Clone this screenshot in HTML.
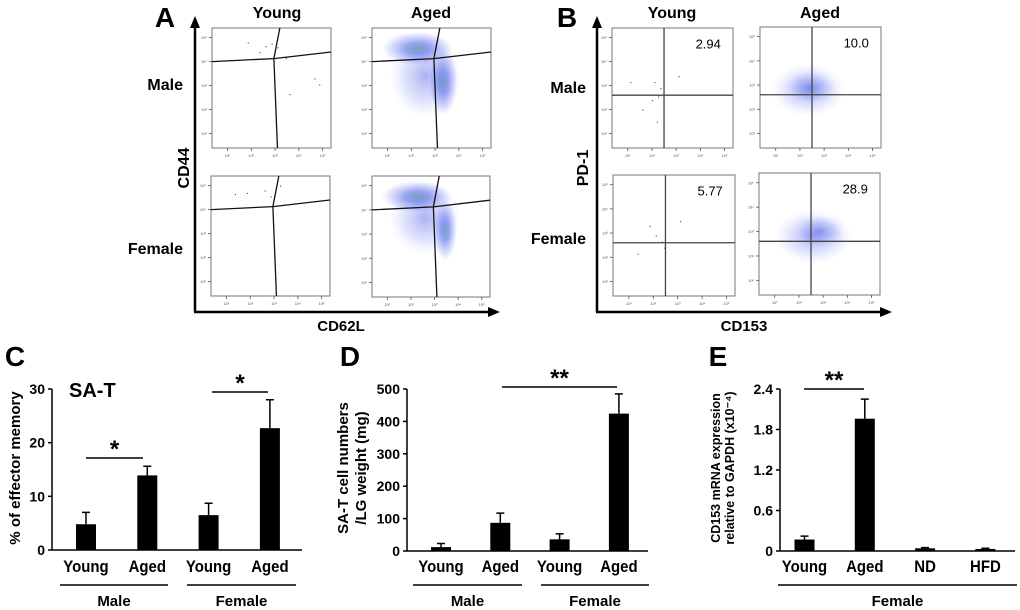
<!DOCTYPE html>
<html><head><meta charset="utf-8"><style>
html,body{margin:0;padding:0;background:#fff;}
svg{display:block;font-family:"Liberation Sans",Arial,sans-serif;}
</style></head><body>
<svg id="fig" width="1020" height="610" viewBox="0 0 1020 610" xmlns="http://www.w3.org/2000/svg">
<defs>
<radialGradient id="cl" cx="50%" cy="50%" r="50%">
<stop offset="0" stop-color="#3a8f8a" stop-opacity="0.7"/>
<stop offset="0.35" stop-color="#3a4fe0" stop-opacity="0.5"/>
<stop offset="0.75" stop-color="#6070ee" stop-opacity="0.22"/>
<stop offset="1" stop-color="#8090ff" stop-opacity="0"/>
</radialGradient>
<radialGradient id="cl2" cx="50%" cy="50%" r="50%">
<stop offset="0" stop-color="#3040e0" stop-opacity="0.4"/>
<stop offset="0.6" stop-color="#6070f0" stop-opacity="0.2"/>
<stop offset="1" stop-color="#90a0ff" stop-opacity="0"/>
</radialGradient>
<marker id="arr" markerUnits="userSpaceOnUse" markerWidth="12" markerHeight="10" refX="4" refY="5" orient="auto"><path d="M0,0 L12,5 L0,10 z" fill="#000"/></marker>
</defs>
<g id="flow"></g>
<g id="bars"></g>
</svg>
<script>
// ---- Panel C data ----
const cCats = ['Young','Aged','Young','Aged'];
const cVals = [4.8, 13.9, 6.5, 22.7];
const cErr = [7.0, 15.6, 8.7, 28.0];
const cTicks = [0, 10, 20, 30];
// ---- Panel D data ----
const dCats = ['Young','Aged','Young','Aged'];
const dVals = [12, 87, 36, 424];
const dErr = [23, 117, 53, 485];
const dTicks = [0, 100, 200, 300, 400, 500];
// ---- Panel E data ----
const eCats = ['Young','Aged','ND','HFD'];
const eVals = [0.17, 1.96, 0.04, 0.03];
const eErr = [0.22, 2.25, 0.05, 0.04];
const eTicks = [0, 0.6, 1.2, 1.8, 2.4];
const eTickLabels = ['0','0.6','1.2','1.8','2.4'];
// ---- Flow quadrant values ----
const bQuadVals = ['2.94','10.0','5.77','28.9'];

const NS='http://www.w3.org/2000/svg';
function mk(parent,tag,attrs,text){
  const e=document.createElementNS(NS,tag);
  for(const k in attrs) e.setAttribute(k,attrs[k]);
  if(text!==undefined) e.textContent=text;
  parent.appendChild(e); return e;
}
const flow=document.getElementById('flow');
const bars=document.getElementById('bars');

function label(parent,x,y,txt,size,anchor,name,rot){
  const t=mk(parent,'text',{x:x,y:y,'font-size':size,'font-weight':'bold','text-anchor':anchor||'middle',fill:'#000'},txt);
  if(rot) t.setAttribute('transform','rotate(-90 '+x+' '+y+')');
  
  
  return t;
}

// ---------- Flow plots ----------
function flowPlot(x,y,w,h,name){
  const g=mk(flow,'g',{});
  
  
  mk(g,'rect',{x:x,y:y,width:w,height:h,fill:'#fff',stroke:'#777','stroke-width':1});
  for(let i=0;i<5;i++){
    const tx=x+w*(0.13+i*0.2), ty=y+h*(0.08+i*0.2);
    mk(g,'line',{x1:tx,y1:y+h,x2:tx,y2:y+h+3,stroke:'#555','stroke-width':0.8});
    mk(g,'line',{x1:x,y1:ty,x2:x-3,y2:ty,stroke:'#555','stroke-width':0.8});
    mk(g,'text',{x:tx,y:y+h+9,'font-size':4,'text-anchor':'middle',fill:'#555'},'10'+'¹²³⁴⁵'[i]);
    mk(g,'text',{x:x-5,y:ty+1.5,'font-size':4,'text-anchor':'end',fill:'#555'},'10'+'⁵⁴³²¹'[i]);
  }
  return g;
}
function blob(g,x,y,w,h,cx,cy,rx,ry,grad){
  mk(g,'ellipse',{cx:x+w*cx,cy:y+h*cy,rx:w*rx,ry:h*ry,fill:'url(#'+(grad||'cl')+')'});
}
function dots(g,x,y,w,h,pts){
  pts.forEach(p=>mk(g,'rect',{x:x+w*p[0],y:y+h*p[1],width:1.2,height:1.2,fill:'#4050e8'}));
}
function gateA(g,x,y,w,h){
  const P=(a,b)=>(x+w*a)+','+(y+h*b);
  mk(g,'polyline',{points:P(0,0.28)+' '+P(0.52,0.255)+' '+P(1,0.2),fill:'none',stroke:'#111','stroke-width':1.3});
  mk(g,'polyline',{points:P(0.57,0)+' '+P(0.52,0.255)+' '+P(0.55,1),fill:'none',stroke:'#111','stroke-width':1.3});
}
function gateB(g,x,y,w,h,v){
  mk(g,'line',{x1:x+w*0.43,y1:y,x2:x+w*0.43,y2:y+h,stroke:'#444','stroke-width':1.3});
  mk(g,'line',{x1:x,y1:y+h*0.56,x2:x+w,y2:y+h*0.56,stroke:'#444','stroke-width':1.3});
  const t=mk(g,'text',{x:x+w*0.9,y:y+h*0.17,'font-size':13,'text-anchor':'end',fill:'#000'},v);
  
  
}

// Panel A
label(flow,165,27,'A',28,'middle','panel-a-label');
label(flow,277,18,'Young',16,'middle','column-young-a');
label(flow,431,18,'Aged',16,'middle','column-aged-a');
label(flow,183,90,'Male',16,'end','row-male-a');
label(flow,183,254,'Female',16,'end','row-female-a');
label(flow,189,168,'CD44',16,'middle','y-axis-title-cd44',true);
label(flow,341,331,'CD62L',15,'middle','x-axis-title-cd62l');
mk(flow,'line',{x1:195,y1:312,x2:195,y2:24,stroke:'#000','stroke-width':2.5,'marker-end':'url(#arr)'});
mk(flow,'line',{x1:194,y1:312,x2:492,y2:312,stroke:'#000','stroke-width':2.5,'marker-end':'url(#arr)'});
let g=flowPlot(212,28,119,120,'flow-a-young-male');
dots(g,212,28,119,120,[[0.3,0.12],[0.45,0.15],[0.5,0.13],[0.4,0.2],[0.55,0.16],[0.62,0.25],[0.86,0.42],[0.9,0.47],[0.65,0.55]]);
gateA(g,212,28,119,120);
g=flowPlot(372,28,119,120,'flow-a-aged-male');
blob(g,372,28,119,120,0.38,0.17,0.3,0.14);
blob(g,372,28,119,120,0.6,0.45,0.12,0.28);
blob(g,372,28,119,120,0.45,0.4,0.3,0.35,'cl2');
gateA(g,372,28,119,120);
g=flowPlot(211,176,119,120,'flow-a-young-female');
dots(g,211,176,119,120,[[0.2,0.15],[0.3,0.14],[0.45,0.12],[0.5,0.17],[0.58,0.08]]);
gateA(g,211,176,119,120);
g=flowPlot(372,176,118,121,'flow-a-aged-female');
blob(g,372,176,118,121,0.38,0.17,0.3,0.13);
blob(g,372,176,118,121,0.62,0.45,0.1,0.25);
blob(g,372,176,118,121,0.45,0.35,0.3,0.3,'cl2');
gateA(g,372,176,118,121);

// Panel B
label(flow,567,27,'B',28,'middle','panel-b-label');
label(flow,672,18,'Young',16,'middle','column-young-b');
label(flow,820,18,'Aged',16,'middle','column-aged-b');
label(flow,586,93,'Male',16,'end','row-male-b');
label(flow,586,244,'Female',16,'end','row-female-b');
label(flow,588,168,'PD-1',16,'middle','y-axis-title-pd1',true);
label(flow,744,331,'CD153',15,'middle','x-axis-title-cd153');
mk(flow,'line',{x1:597,y1:312,x2:597,y2:24,stroke:'#000','stroke-width':2.5,'marker-end':'url(#arr)'});
mk(flow,'line',{x1:596,y1:312,x2:884,y2:312,stroke:'#000','stroke-width':2.5,'marker-end':'url(#arr)'});
g=flowPlot(612,28,121,120,'flow-b-young-male');
dots(g,612,28,121,120,[[0.15,0.45],[0.35,0.45],[0.4,0.5],[0.33,0.6],[0.38,0.57],[0.25,0.68],[0.37,0.78],[0.55,0.4]]);
gateB(g,612,28,121,120,bQuadVals[0]);
g=flowPlot(760,27,121,121,'flow-b-aged-male');
blob(g,760,27,121,121,0.4,0.52,0.3,0.22,'cl2');
blob(g,760,27,121,121,0.42,0.5,0.2,0.13,'cl2');
gateB(g,760,27,121,121,bQuadVals[1]);
g=flowPlot(613,175,122,121,'flow-b-young-female');
dots(g,613,175,122,121,[[0.35,0.5],[0.4,0.55],[0.42,0.6],[0.3,0.42],[0.2,0.65],[0.55,0.38]]);
gateB(g,613,175,122,121,bQuadVals[2]);
g=flowPlot(759,173,121,122,'flow-b-aged-female');
blob(g,759,173,121,122,0.45,0.52,0.32,0.22,'cl2');
blob(g,759,173,121,122,0.5,0.48,0.2,0.13,'cl2');
gateB(g,759,173,121,122,bQuadVals[3]);

// ---------- Bar panels ----------
function barPanel(o){
  const pg=mk(bars,'g',{});
  
  
  const yS=v=>o.y0-(v/o.max)*(o.y0-o.yTop);
  const xS=i=>o.start+i*o.step;
  mk(pg,'line',{x1:o.ax,y1:o.yTop,x2:o.ax,y2:o.y0,stroke:'#000','stroke-width':1.5});
  mk(pg,'line',{x1:o.ax,y1:o.y0,x2:o.axEnd,y2:o.y0,stroke:'#000','stroke-width':1.5});
  o.ticks.forEach((t,i)=>{
    mk(pg,'line',{x1:o.ax-4,y1:yS(t),x2:o.ax,y2:yS(t),stroke:'#000','stroke-width':1.5});
    const tl=mk(pg,'text',{x:o.ax-7,y:yS(t)+5,'font-size':14,'font-weight':'bold','text-anchor':'end'},o.tickLabels?o.tickLabels[i]:String(t));
    
    
  });
  o.vals.forEach((v,i)=>{
    const cx=xS(i);
    const r=mk(pg,'rect',{x:cx-10,y:yS(v),width:20,height:o.y0-yS(v),fill:'#000'});
    
    
    const e=mk(pg,'path',{d:'M'+cx+','+yS(v)+' V'+yS(o.err[i])+' M'+(cx-4)+','+yS(o.err[i])+' H'+(cx+4),stroke:'#000','stroke-width':1.5,fill:'none'});
    
    
    const c=mk(pg,'text',{x:cx,y:572,'font-size':17,'font-weight':'bold','text-anchor':'middle',transform:'translate('+cx+',0) scale(0.88,1) translate('+(-cx)+',0)'},o.cats[i]);
    
    
  });
  o.groups.forEach(gr=>{
    mk(pg,'line',{x1:gr[0],y1:585,x2:gr[1],y2:585,stroke:'#000','stroke-width':1.5});
    label(pg,(gr[0]+gr[1])/2,606,gr[2],15,'middle','group-label-'+gr[2].toLowerCase());
  });
  o.sig.forEach(s=>{
    mk(pg,'line',{x1:s[0],y1:s[2],x2:s[1],y2:s[2],stroke:'#000','stroke-width':1.5});
    label(pg,(s[0]+s[1])/2,s[2]-1,s[3],24,'middle','significance-star');
  });
  return pg;
}
barPanel({name:'panel-c-chart',cats:cCats,vals:cVals,err:cErr,ticks:cTicks,max:30,ax:52,axEnd:302,y0:550,yTop:389,start:86,step:61.3,
  groups:[[60,168,'Male'],[187,296,'Female']],sig:[[86,143,458,'*'],[212,268,392,'*']]});
barPanel({name:'panel-d-chart',cats:dCats,vals:dVals,err:dErr,ticks:dTicks,max:500,ax:407,axEnd:648,y0:551,yTop:389,start:441,step:59.3,
  groups:[[413,522,'Male'],[541,649,'Female']],sig:[[502,617,387,'**']]});
barPanel({name:'panel-e-chart',cats:eCats,vals:eVals,err:eErr,ticks:eTicks,tickLabels:eTickLabels,max:2.4,ax:780,axEnd:1015,y0:551,yTop:389,start:804.5,step:60.3,
  groups:[[778,1017,'Female']],sig:[[804,864,389,'**']]});

label(bars,15,366,'C',28,'middle','panel-c-label');
label(bars,350,366,'D',28,'middle','panel-d-label');
label(bars,718,366,'E',28,'middle','panel-e-label');
label(bars,69,397,'SA-T',20,'start','panel-c-subtitle');
label(bars,20,468,'% of effector memory',15,'middle','y-axis-title-c',true);
label(bars,348,468,'SA-T cell numbers',15,'middle','y-axis-title-d-line1',true);
label(bars,366,468,'/LG weight (mg)',15,'middle','y-axis-title-d-line2',true);
label(bars,720,468,'CD153 mRNA expression',12.5,'middle','y-axis-title-e-line1',true);
label(bars,734,468,'relative to GAPDH (x10⁻⁴)',12.5,'middle','y-axis-title-e-line2',true);
</script>
</body></html>
